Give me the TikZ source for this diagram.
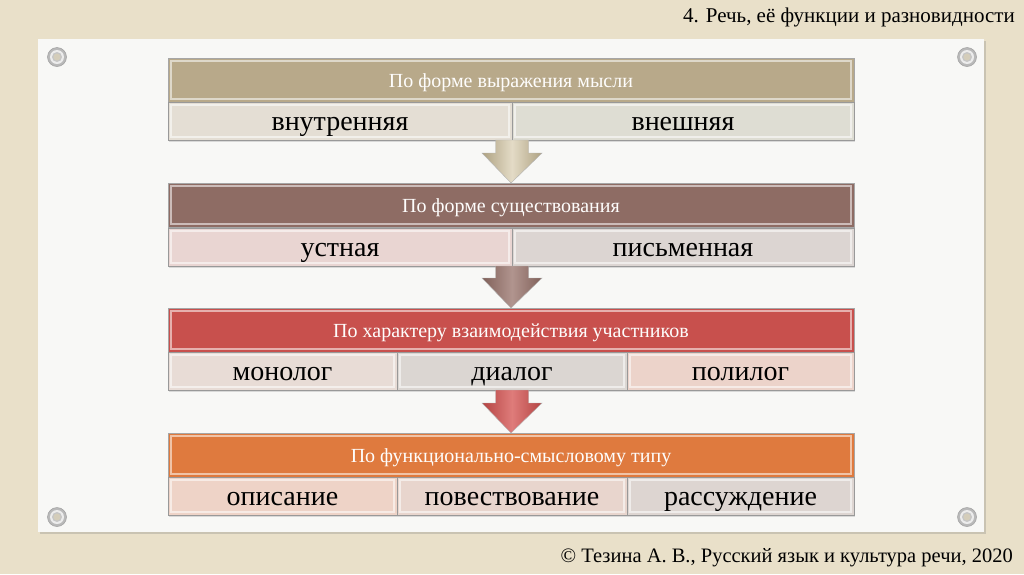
\documentclass[tikz,border=0pt]{standalone}
\usepackage{fontspec}
\setmainfont{Liberation Serif}
\usetikzlibrary{calc,shadows}
\definecolor{bg}{HTML}{E9E0C9}
\definecolor{panelc}{HTML}{F8F8F6}
\definecolor{hA}{HTML}{B8A98A}
\definecolor{hB}{HTML}{8E6C64}
\definecolor{hC}{HTML}{C8504D}
\definecolor{hD}{HTML}{DF7A3E}
\definecolor{sA1}{HTML}{E4DED4}
\definecolor{sA2}{HTML}{DEDDD3}
\definecolor{sB1}{HTML}{E9D5D2}
\definecolor{sB2}{HTML}{DCD5D2}
\definecolor{sC1}{HTML}{E8DCD6}
\definecolor{sC2}{HTML}{DBD6D2}
\definecolor{sC3}{HTML}{ECD3CA}
\definecolor{sD1}{HTML}{EED3C7}
\definecolor{sD2}{HTML}{E8D5CD}
\definecolor{sD3}{HTML}{DDD5D1}
\definecolor{aA}{HTML}{CDBE98}
\definecolor{aB}{HTML}{977169}
\definecolor{aC}{HTML}{D4504E}
\begin{document}
\begin{tikzpicture}[x=1pt,y=-1pt,
  bevel/.style={path picture={\draw[white,opacity=.55,line width=1.2pt]
     ([shift={(3pt,-3pt)}]path picture bounding box.north west) rectangle
     ([shift={(-3pt,3pt)}]path picture bounding box.south east);}},
  hdr/.style={draw=black!35,line width=.6pt,inner sep=0pt,outer sep=0pt,
     minimum width=686,minimum height=44,anchor=north west,text=white!94!bg,
     font=\fontsize{20}{24}\selectfont,text height=14pt,text depth=0pt,bevel,
     drop shadow={shadow xshift=1pt,shadow yshift=-1.5pt,opacity=.25}},
  subbox/.style={draw=black!40,line width=.6pt,inner sep=0pt,outer sep=0pt,
     minimum height=38,anchor=north west,text=black,
     font=\fontsize{28}{32}\selectfont,text height=18pt,text depth=0pt,bevel,
     drop shadow={shadow xshift=1pt,shadow yshift=-1.5pt,opacity=.25}},
  blockarrow/.style={draw=black!30,line width=.4pt,to path={let \p1=(\tikztostart),\p2=(\tikztotarget) in
     (\x1-16.5pt,\y1) -- (\x1-16.5pt,\y2+30pt) -- (\x1-30pt,\y2+30pt) -- (\x2,\y2)
     -- (\x1+30pt,\y2+30pt) -- (\x1+16.5pt,\y2+30pt) -- (\x1+16.5pt,\y1) -- cycle}},
  pin/.pic={\fill[gray!55,draw=gray!75,line width=.5pt] (0,0) circle (9.5);
            \fill[gray!15] (0,0) circle (7);
            \fill[gray!45] (0,0) circle (5);
            \fill[bg!80!gray] (0,0) circle (3.5);}
]
\useasboundingbox (0,0) rectangle (1024,574);
\fill[bg] (0,0) rectangle (1024,574);
\node[anchor=north east,inner sep=0pt,font=\fontsize{21}{24}\selectfont] (title) at (1015,8) {4. Речь, её функции и разновидности};
\node[anchor=south east,inner sep=0pt,font=\fontsize{20.5}{24}\selectfont] (copy) at (1013,567) {© Тезина А. В., Русский язык и культура речи, 2020};
\node[fill=panelc,inner sep=0pt,outer sep=0pt,minimum width=946,minimum height=493,anchor=north west,
  drop shadow={shadow xshift=1.5pt,shadow yshift=-2pt,opacity=.3}] (panel) at (38,39) {};
\pic at (57,57) {pin};
\pic at (967,57) {pin};
\pic at (57,517) {pin};
\pic at (967,517) {pin};

% row 1
\node[hdr,fill=hA] (h1) at (168,58) {По форме выражения мысли};
\node[subbox,fill=sA1,minimum width=344] (a1) at (168,102) {внутренняя};
\node[subbox,fill=sA2,minimum width=342] (a2) at (512,102) {внешняя};
% row 2
\node[hdr,fill=hB] (h2) at (168,183) {По форме существования};
\node[subbox,fill=sB1,minimum width=344] (b1) at (168,228) {устная};
\node[subbox,fill=sB2,minimum width=342] (b2) at (512,228) {письменная};
% row 3
\node[hdr,fill=hC] (h3) at (168,308) {По характеру взаимодействия участников};
\node[subbox,fill=sC1,minimum width=229] (c1) at (168,352) {монолог};
\node[subbox,fill=sC2,minimum width=230] (c2) at (397,352) {диалог};
\node[subbox,fill=sC3,minimum width=227] (c3) at (627,352) {полилог};
% row 4
\node[hdr,fill=hD] (h4) at (168,433) {По функционально-смысловому типу};
\node[subbox,fill=sD1,minimum width=229] (d1) at (168,477) {описание};
\node[subbox,fill=sD2,minimum width=230] (d2) at (397,477) {повествование};
\node[subbox,fill=sD3,minimum width=227] (d3) at (627,477) {рассуждение};

% arrows
\path[blockarrow,left color=aA!85!black,right color=aA!85!black,middle color=aA!55!white] (a1.south east) to (h2.north);
\path[blockarrow,left color=aB!85!black,right color=aB!85!black,middle color=aB!75!white] (b1.south east) to (h3.north);
\path[blockarrow,left color=aC!85!black,right color=aC!85!black,middle color=aC!75!white] (c2.south) to (h4.north);
\end{tikzpicture}
\end{document}
